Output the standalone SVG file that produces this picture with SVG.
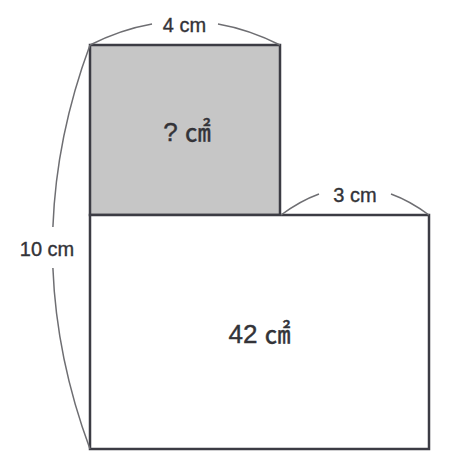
<svg xmlns="http://www.w3.org/2000/svg" width="466" height="472" viewBox="0 0 466 472">
<style>
.shape{stroke:#3c3c44;stroke-width:2.5;stroke-linejoin:miter}
.brace{fill:none;stroke:#6e6e72;stroke-width:1.5}
.dim{font-family:"Liberation Sans","Noto Sans CJK KR",sans-serif;font-size:20px;fill:#333338;stroke:#333338;stroke-width:0.35;text-anchor:middle}
.area{font-family:"Liberation Sans","Noto Sans CJK KR",sans-serif;font-size:26px;fill:#333338;stroke:#333338;stroke-width:0.4;text-anchor:middle}
</style>
<rect width="466" height="472" fill="#ffffff"/>
<g id="square">
<rect class="shape" x="90" y="45" width="190" height="170" fill="#c6c6c6"/>
<text class="area" x="187" y="141">? ㎠</text>
</g>
<g id="rectangle">
<rect class="shape" x="90" y="215" width="339" height="234" fill="#ffffff"/>
<text class="area" x="259.5" y="343">42 ㎠</text>
</g>
<g id="connectors">
<path class="brace" d="M90,45 Q121,29.4 152,24"/>
<path class="brace" d="M218,24 Q249,29.4 280,45"/>
<path class="brace" d="M281,215 Q300,200.9 319,194"/>
<path class="brace" d="M391,194 Q410,200.9 429,215"/>
<path class="brace" d="M90,45 Q56.25,135.9 52.9,227"/>
<path class="brace" d="M52.9,268 Q56.4,358.5 90,449"/>
</g>
<g id="labels">
<text class="dim" x="184.5" y="32">4 cm</text>
<text class="dim" x="355" y="202">3 cm</text>
<text class="dim" x="47" y="256">10 cm</text>
</g>
</svg>
